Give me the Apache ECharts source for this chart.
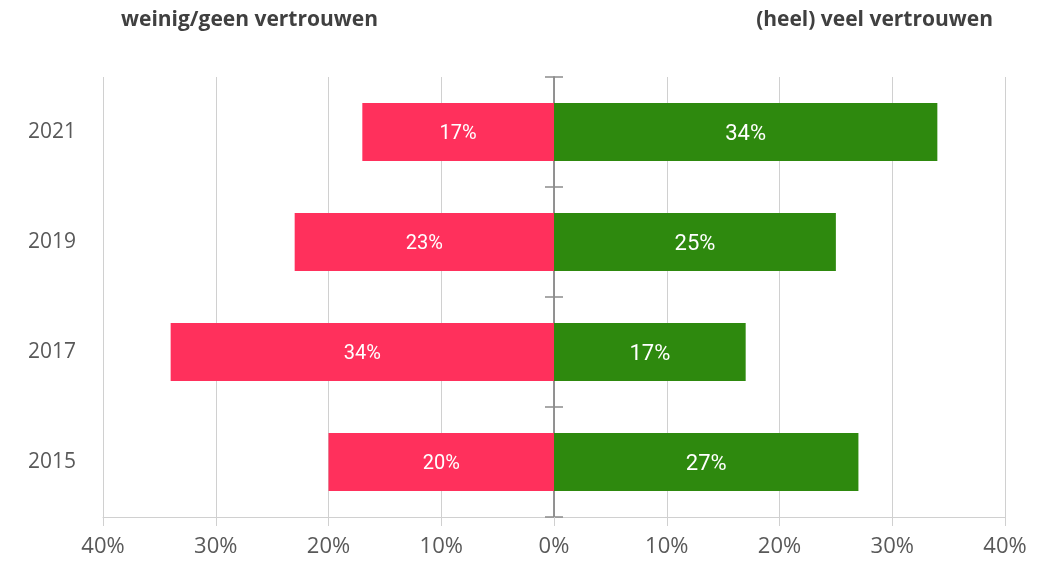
<!DOCTYPE html>
<html>
<head>
<meta charset="utf-8">
<script src="https://cdn.jsdelivr.net/npm/echarts@6/dist/echarts.min.js"></script>
<style>
  html, body { margin: 0; padding: 0; background: #fff; }
  #chart { width: 1053px; height: 562px; }
</style>
</head>
<body>
<div id="chart"></div>
<script>
// jaren van boven naar beneden
const years = ["2021", "2019", "2017", "2015"];
const weinigVertrouwen = [17, 23, 34, 20];
const veelVertrouwen = [34, 25, 17, 27];
const xTicks = [-40, -30, -20, -10, 0, 10, 20, 30, 40];

const myChart = echarts.init(document.getElementById("chart"));

const pct = (v) => Math.abs(Math.round(v)) + "%";

const zeroAxisStyle = { color: "#8c8c8c", width: 1.5 };

myChart.setOption({
  animation: false,
  title: [
    {
      text: "weinig/geen vertrouwen",
      left: 116,
      top: 5,
      textStyle: { fontFamily: "Open Sans", fontSize: 21, fontWeight: "bold", color: "#404040" },
    },
    {
      text: "(heel) veel vertrouwen",
      right: 55,
      top: 5,
      textStyle: { fontFamily: "Open Sans", fontSize: 21, fontWeight: "bold", color: "#404040" },
    },
  ],
  grid: { left: 103, right: 48, top: 77, bottom: 45 },
  xAxis: [
    {
      type: "value",
      min: xTicks[0],
      max: xTicks[xTicks.length - 1],
      interval: 10,
      axisLine: { show: true, lineStyle: { color: "#d0d0d0" } },
      axisTick: { show: true, length: 9, lineStyle: { color: "#d0d0d0" } },
      splitLine: { show: true, lineStyle: { color: "#d0d0d0" } },
      axisLabel: {
        formatter: pct,
        fontFamily: "Open Sans",
        fontSize: 22,
        color: "#595959",
        margin: 19,
      },
    },
    {
      // hulpas zodat tweede y-as ook op 0 komt
      type: "value",
      position: "top",
      min: xTicks[0],
      max: xTicks[xTicks.length - 1],
      interval: 10,
      axisLine: { show: false },
      axisTick: { show: false },
      axisLabel: { show: false },
      splitLine: { show: false },
    },
  ],
  yAxis: [
    {
      // as op 0 met streepjes naar buiten
      type: "category",
      data: years,
      inverse: true,
      position: "left",
      axisLine: { show: true, onZero: true, onZeroAxisIndex: 0, lineStyle: zeroAxisStyle },
      axisTick: { show: true, length: 9, lineStyle: zeroAxisStyle },
      axisLabel: { show: false },
      splitLine: { show: false },
    },
    {
      // zelfde as, streepjes naar binnen
      type: "category",
      data: years,
      inverse: true,
      position: "left",
      axisLine: { show: true, onZero: true, onZeroAxisIndex: 1, lineStyle: zeroAxisStyle },
      axisTick: { show: true, inside: true, length: 9, lineStyle: zeroAxisStyle },
      axisLabel: { show: false },
      splitLine: { show: false },
    },
    {
      // labels links
      type: "category",
      data: years,
      inverse: true,
      position: "left",
      axisLine: { show: false, onZero: false },
      axisTick: { show: false },
      axisLabel: {
        fontFamily: "Open Sans",
        fontSize: 21,
        color: "#595959",
        margin: 27,
      },
      splitLine: { show: false },
    },
  ],
  series: [
    {
      name: "weinig/geen vertrouwen",
      type: "bar",
      stack: "totaal",
      barWidth: 58,
      data: weinigVertrouwen.map((v) => -v),
      itemStyle: { color: "#ff305c" },
      label: {
        show: true,
        position: "inside",
        formatter: (p) => pct(p.value),
        fontFamily: "Roboto",
        fontSize: 20,
        color: "#ffffff",
        offset: [0, 2],
      },
      z: 1,
    },
    {
      name: "(heel) veel vertrouwen",
      type: "bar",
      stack: "totaal",
      barWidth: 58,
      data: veelVertrouwen,
      itemStyle: { color: "#2e890e" },
      label: {
        show: true,
        position: "inside",
        formatter: (p) => pct(p.value),
        fontFamily: "Roboto",
        fontSize: 22,
        color: "#ffffff",
        offset: [0, 2],
      },
      z: 1,
    },
  ],
});
</script>
</body>
</html>
